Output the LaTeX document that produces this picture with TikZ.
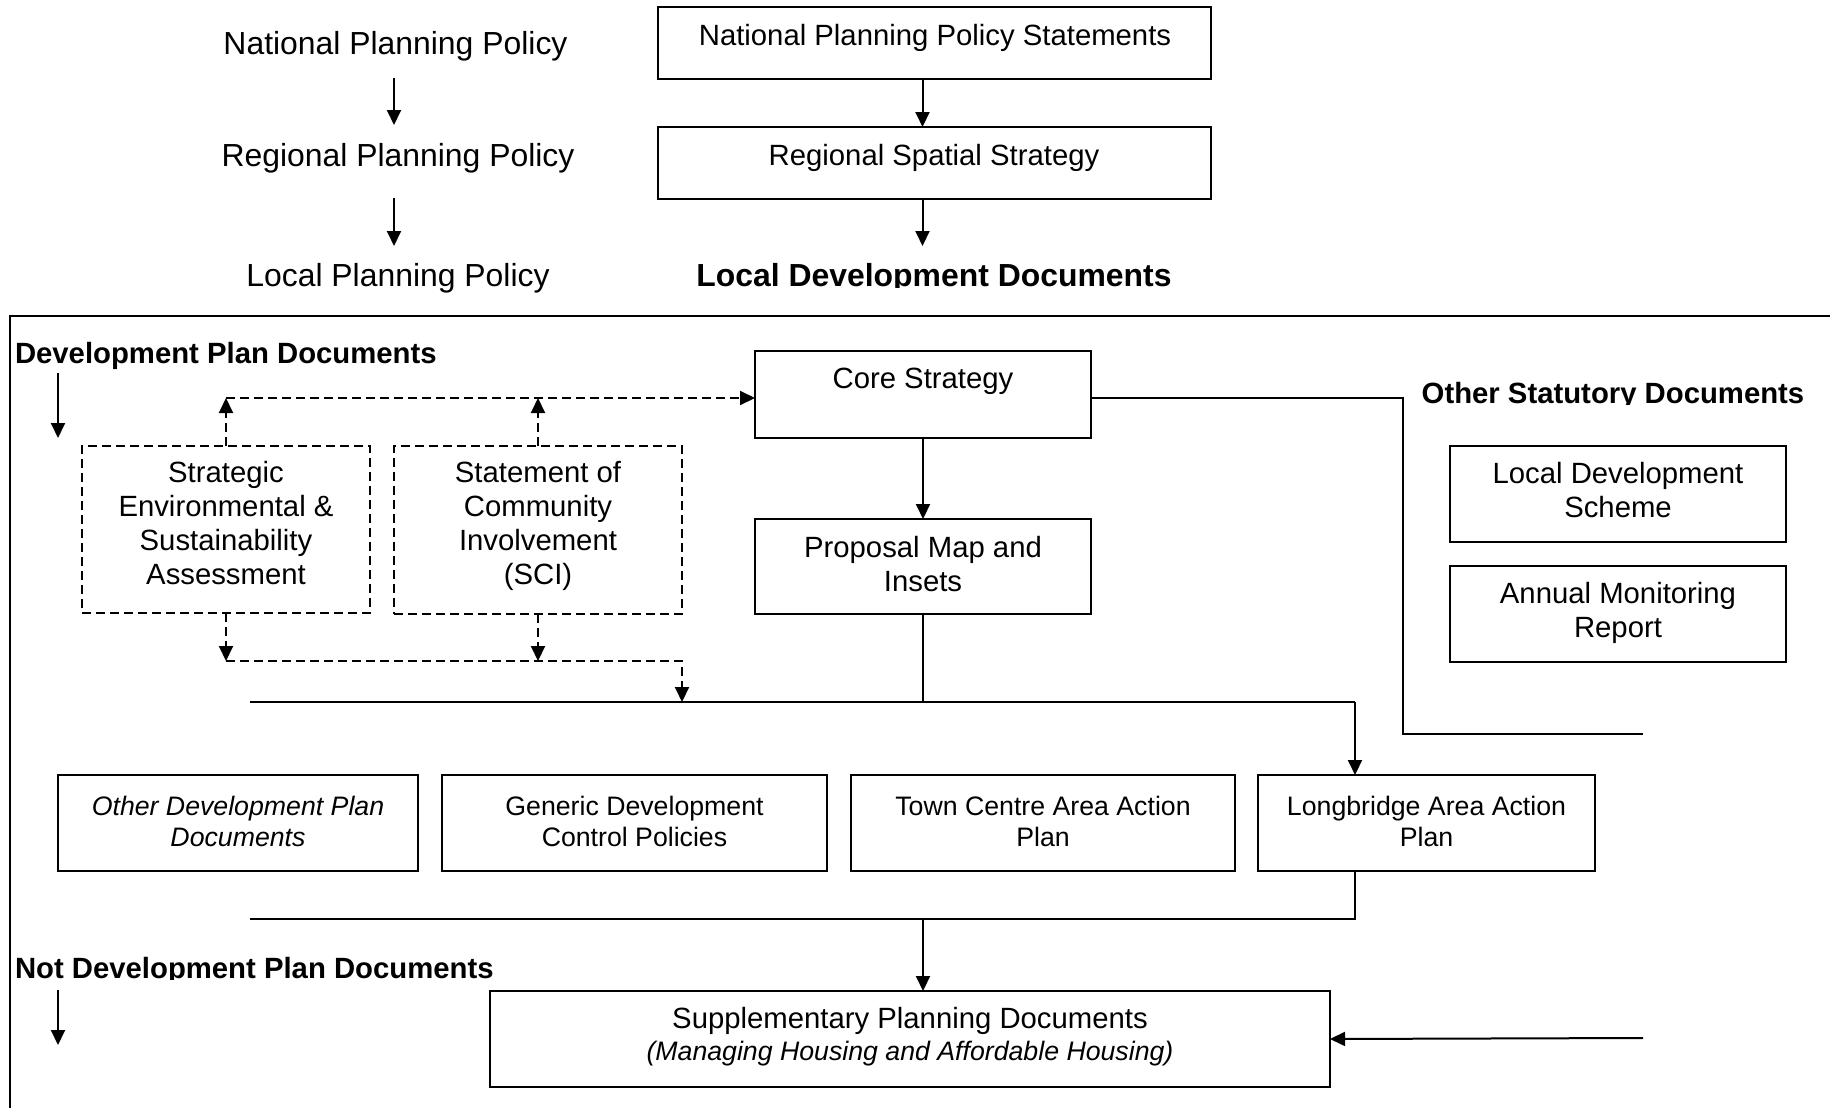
\documentclass[tikz,border=0pt]{standalone}
\usepackage{fontspec}
\setmainfont{Liberation Sans}
\usetikzlibrary{arrows.meta}
\newcommand\FszBig{\fontsize{31.9pt}{36pt}\selectfont}
\newcommand\FszMain{\fontsize{29.3pt}{33.7pt}\selectfont}
\newcommand\FszSmall{\fontsize{26.7pt}{31pt}\selectfont}
\begin{document}
\begin{tikzpicture}[x=1pt,y=-1pt,
  box/.style={draw, line width=2.4pt, inner sep=0pt, outer sep=0pt},
  dbox/.style={draw, line width=2pt, dash pattern=on 9pt off 5pt, inner sep=0pt, outer sep=0pt},
  txt/.style={inner sep=0pt, outer sep=0pt, align=center, anchor=base, font=\FszMain},
  ln/.style={line width=2pt},
  arr/.style={line width=2pt, -{Triangle[length=15pt,width=14pt]}},
  dsh/.style={dash pattern=on 9pt off 5pt}
]
\useasboundingbox (0,0) rectangle (1830,1108);

% ---------- top hierarchy ----------
\node[txt, font=\FszBig] (tNat) at (395.5,54.5) {National Planning Policy};
\node[txt, font=\FszBig] (tReg) at (398,166) {Regional Planning Policy};
\node[txt, font=\FszBig] (tLoc) at (398,286) {Local Planning Policy};
\draw[arr] ([xshift=-1.5pt,yshift=-23.5pt]tNat.base) -- ([xshift=-4pt,yshift=41pt]tReg.base);
\draw[arr] ([xshift=-4pt,yshift=-32pt]tReg.base) -- ([xshift=-4pt,yshift=40pt]tLoc.base);

\node[box, minimum width=553pt, minimum height=72pt] (npps) at (934.5,43) {};
\node[txt] (nppsT) at (935,46) {National Planning Policy Statements};
\node[box, minimum width=553pt, minimum height=72pt] (rss) at (934.5,163) {};
\node[txt] (rssT) at (934,165.5) {Regional Spatial Strategy};
\begin{scope}
  \clip (600,240) rectangle (1250,287.5);
  \node[txt, font=\FszBig\bfseries] (ldd) at (934,286) {Local Development Documents};
\end{scope}
\draw[arr] ([xshift=-12pt]npps.south) -- ([xshift=-12pt]rss.north);
\draw[arr] ([xshift=-12pt]rss.south) -- ([xshift=-11.5pt,yshift=40pt]ldd.base);

% ---------- frame ----------
\coordinate (fTL) at (10,316);
\coordinate (fTR) at (1830,316);
\coordinate (fBL) at (10,1108);
\draw[line width=2pt] (fBL) -- (fTL) -- (fTR);

% ---------- development plan documents ----------
\node[txt, font=\FszMain\bfseries, anchor=base west] (dpd) at (15,363) {Development Plan Documents};
\draw[arr] ([xshift=43pt,yshift=-10pt]dpd.base west) -- ([xshift=43pt,yshift=-75pt]dpd.base west);

\node[box, minimum width=336pt, minimum height=87pt] (core) at (923,394.5) {};
\node[txt] (coreT) at (923,388) {Core Strategy};
\node[box, minimum width=336pt, minimum height=95pt] (prop) at (923,566.5) {};
\node[txt] (propT) at (923,591) {Proposal Map and\\Insets};
\draw[arr] (core.south) -- (prop.north);

\node[dbox, minimum width=288pt, minimum height=167pt] (sea) at (226,529.5) {};
\node[txt] (seaT) at (226,584) {Strategic\\Environmental \&\\Sustainability\\Assessment};
\node[dbox, minimum width=288pt, minimum height=168pt] (sci) at (538,530) {};
\node[txt] (sciT) at (538,584) {Statement of\\Community\\Involvement\\(SCI)};

\coordinate (dTop) at (0,398);
\coordinate (dBot) at (0,661);
\draw[ln, dsh, arr] (sea.north) -- (sea.north |- dTop);
\draw[ln, dsh, arr] (sci.north) -- (sci.north |- dTop);
\draw[ln, dsh, arr] (sea.north |- dTop) -- (core.west |- dTop);
\draw[ln, dsh, arr] (sea.south) -- (sea.south |- dBot);
\draw[ln, dsh, arr] (sci.south) -- (sci.south |- dBot);

\coordinate (busAL) at (250,702);
\coordinate (busAR) at (1355,702);
\draw[ln, dsh, arr] (sea.south |- dBot) -| (sci.south east |- busAL);

% ---------- other statutory documents ----------
\begin{scope}
  \clip (1400,370) rectangle (1830,404.5);
  \node[txt, font=\FszMain\bfseries] (osd) at (1613,403) {Other Statutory Documents};
\end{scope}
\node[box, minimum width=336pt, minimum height=96pt] (lds) at (1618,494) {};
\node[txt] (ldsT) at (1618,517) {Local Development\\Scheme};
\node[box, minimum width=336pt, minimum height=96pt] (amr) at (1618,614) {};
\node[txt] (amrT) at (1618,637.5) {Annual Monitoring\\Report};

\coordinate (oCorner) at (1403,734);
\coordinate (oEnd) at (1643,734);
\draw[ln] (core.east |- dTop) -| (oCorner) -- (oEnd);

% ---------- row of plan documents ----------
\node[box, minimum width=360pt, minimum height=96pt] (odpd) at (238,823) {};
\node[txt, font=\FszSmall\itshape] (odpdT) at (238,846) {Other Development Plan\\Documents};
\node[box, minimum width=385pt, minimum height=96pt] (gen) at (634.5,823) {};
\node[txt, font=\FszSmall] (genT) at (634.5,846) {Generic Development\\Control Policies};
\node[box, minimum width=384pt, minimum height=96pt] (town) at (1043,823) {};
\node[txt, font=\FszSmall] (townT) at (1043,846) {Town Centre Area Action\\Plan};
\node[box, minimum width=337pt, minimum height=96pt] (long) at (1426.5,823) {};
\node[txt, font=\FszSmall] (longT) at (1426.5,846) {Longbridge Area Action\\Plan};

\draw[ln] (busAL) -- (busAR);
\draw[arr] (busAR) -- (busAR |- long.north);
\draw[ln] (prop.south) -- (prop.south |- busAL);

\coordinate (busBL) at (250,919);
\coordinate (busBR) at (1355,919);
\draw[ln] (busBR |- long.south) -- (busBR) -- (busBL);

% ---------- not development plan documents ----------
\begin{scope}
  \clip (0,940) rectangle (600,979.5);
  \node[txt, font=\FszMain\bfseries, anchor=base west] (ndpd) at (15,978) {Not Development Plan Documents};
\end{scope}
\draw[arr] ([xshift=43pt,yshift=-12pt]ndpd.base west) -- ([xshift=43pt,yshift=-67pt]ndpd.base west);

\node[box, minimum width=840pt, minimum height=96pt] (spd) at (910,1039) {};
\node[txt] (spdT) at (910,1028) {Supplementary Planning Documents};
\node[txt, font=\FszSmall\itshape] (spdI) at (910,1060) {(Managing Housing and Affordable Housing)};
\draw[arr] (prop.south |- busBL) -- (prop.south |- spd.north);

\coordinate (sIn) at (1643,1038);
\draw[arr] (sIn) -- (spd.east);
\end{tikzpicture}
\end{document}
